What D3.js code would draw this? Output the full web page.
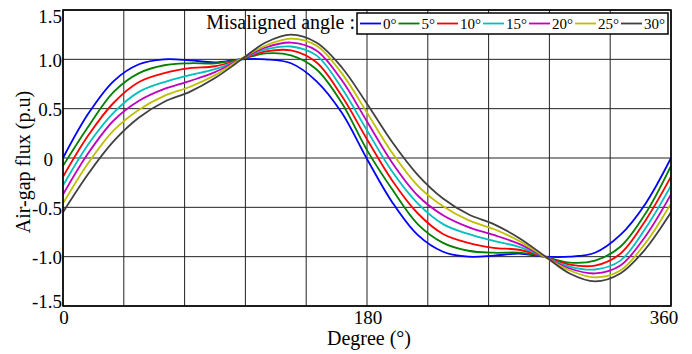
<!DOCTYPE html>
<html>
<head>
    <script src="https://d3js.org/d3.v7.min.js"></script>
    <style>
        body { margin: 0; background: #fff; }
        text { font-family: "Liberation Serif", "Times New Roman", serif; fill: #000; }
    </style>
</head>
<body>
    <svg id="chart" width="692" height="354"></svg>
    <script>
        // sample angles (degrees) and air-gap flux for each misaligned angle
        const degrees = [0, 15, 30, 45, 60, 75, 90, 105, 120, 135, 150, 165, 180,
            195, 210, 225, 240, 255, 270, 285, 300, 315, 330, 345, 360];

        const flux0 = [0.00, 0.45, 0.78, 0.95, 1.00, 0.99, 0.97, 1.00, 1.00, 0.96, 0.78, 0.46, -0.01,
            -0.45, -0.78, -0.95, -1.00, -0.99, -0.97, -1.00, -1.00, -0.96, -0.78, -0.46, 0.00];
        const flux5 = [-0.08, 0.32, 0.67, 0.86, 0.94, 0.96, 0.96, 1.00, 1.06, 1.04, 0.90, 0.56, 0.08,
            -0.32, -0.67, -0.86, -0.94, -0.96, -0.96, -1.00, -1.06, -1.04, -0.90, -0.56, -0.08];
        const flux10 = [-0.19, 0.23, 0.56, 0.77, 0.86, 0.91, 0.93, 1.00, 1.08, 1.09, 0.97, 0.63, 0.19,
            -0.23, -0.56, -0.77, -0.86, -0.91, -0.93, -1.00, -1.08, -1.09, -0.97, -0.63, -0.19];
        const flux15 = [-0.28, 0.14, 0.46, 0.67, 0.77, 0.84, 0.90, 1.00, 1.10, 1.13, 1.04, 0.71, 0.28,
            -0.14, -0.46, -0.67, -0.77, -0.84, -0.90, -1.00, -1.10, -1.13, -1.04, -0.71, -0.28];
        const flux20 = [-0.37, 0.05, 0.38, 0.58, 0.70, 0.78, 0.87, 1.00, 1.12, 1.17, 1.09, 0.79, 0.37,
            -0.05, -0.38, -0.58, -0.70, -0.78, -0.87, -1.00, -1.12, -1.17, -1.09, -0.79, -0.37];
        const flux25 = [-0.46, -0.05, 0.28, 0.49, 0.63, 0.72, 0.84, 1.00, 1.14, 1.21, 1.14, 0.86, 0.46,
            0.05, -0.28, -0.49, -0.63, -0.72, -0.84, -1.00, -1.14, -1.21, -1.14, -0.86, -0.46];
        const flux30 = [-0.55, -0.16, 0.17, 0.41, 0.57, 0.67, 0.81, 0.99, 1.17, 1.25, 1.17, 0.92, 0.55,
            0.16, -0.17, -0.41, -0.57, -0.67, -0.81, -0.99, -1.17, -1.25, -1.17, -0.92, -0.55];

        const angleLabels = ["0°", "5°", "10°", "15°", "20°", "25°", "30°"];
        const colors = ["#0000ff", "#008000", "#ff0000", "#00bfbf", "#bf00bf", "#bfbf00", "#404040"];
        const allFlux = [flux0, flux5, flux10, flux15, flux20, flux25, flux30];

        const yTicks = [1.5, 1.0, 0.5, 0, -0.5, -1.0, -1.5];
        const yTickLabels = ["1.5", "1.0", "0.5", "0", "-0.5", "-1.0", "-1.5"];
        const xTicks = [0, 180, 360];
        const xGrid = d3.range(0, 361, 36);

        const svg = d3.select("#chart");
        const margin = { left: 63, right: 21, top: 10, bottom: 48 };
        const width = 692 - margin.left - margin.right;
        const height = 354 - margin.top - margin.bottom;

        const x = d3.scaleLinear().domain([0, 360]).range([margin.left, margin.left + width]);
        const y = d3.scaleLinear().domain([-1.5, 1.5]).range([margin.top + height, margin.top]);

        // grid
        svg.append("g").selectAll("line").data(xGrid).enter().append("line")
            .attr("x1", d => x(d)).attr("x2", d => x(d))
            .attr("y1", y(-1.5)).attr("y2", y(1.5))
            .attr("stroke", "#222").attr("stroke-width", 1);
        svg.append("g").selectAll("line").data(yTicks).enter().append("line")
            .attr("x1", x(0)).attr("x2", x(360))
            .attr("y1", d => y(d)).attr("y2", d => y(d))
            .attr("stroke", "#222").attr("stroke-width", 1);

        svg.append("defs").append("clipPath").attr("id", "clip")
            .append("rect").attr("x", x(0)).attr("y", y(1.5))
            .attr("width", width).attr("height", height);

        const line = d3.line()
            .x((d, i) => x(degrees[i]))
            .y(d => y(d))
            .curve(d3.curveCatmullRom.alpha(0.5));

        svg.append("g").attr("clip-path", "url(#clip)")
            .selectAll("path").data(allFlux).enter().append("path")
            .attr("d", d => line(d))
            .attr("fill", "none")
            .attr("stroke", (d, i) => colors[i])
            .attr("stroke-width", 1.8);

        // frame
        svg.append("rect")
            .attr("x", x(0)).attr("y", y(1.5))
            .attr("width", width).attr("height", height)
            .attr("fill", "none").attr("stroke", "#000").attr("stroke-width", 1.6);

        // y tick labels
        svg.append("g").selectAll("text").data(yTicks).enter().append("text")
            .attr("x", d => d === 0 ? x(0) - 10 : x(0) - 1)
            .attr("y", d => d === 1.5 ? y(d) + 6 : (d === -1.5 ? y(d) - 5 : y(d) + 1))
            .attr("text-anchor", "end")
            .attr("dominant-baseline", "central")
            .attr("font-size", 19)
            .text((d, i) => yTickLabels[i]);

        // x tick labels
        svg.append("g").selectAll("text").data(xTicks).enter().append("text")
            .attr("x", d => d === 360 ? x(d) - 7 : x(d) + 1)
            .attr("y", y(-1.5) + 18)
            .attr("text-anchor", "middle")
            .attr("font-size", 19)
            .text(d => d);

        svg.append("text")
            .attr("x", x(180) + 2).attr("y", 345)
            .attr("text-anchor", "middle")
            .attr("font-size", 20)
            .text("Degree (°)");

        svg.append("text")
            .attr("transform", `translate(30,${y(0) + 4}) rotate(-90)`)
            .attr("text-anchor", "middle")
            .attr("font-size", 20)
            .text("Air-gap flux (p.u)");

        // legend
        svg.append("text")
            .attr("x", 355).attr("y", 29)
            .attr("text-anchor", "end")
            .attr("font-size", 20)
            .text("Misaligned angle :");

        const legend = svg.append("g");
        const box = legend.append("rect")
            .attr("x", 357).attr("y", 13).attr("height", 21)
            .attr("fill", "#fff").attr("stroke", "#000").attr("stroke-width", 1.5);
        let lx = 360;
        angleLabels.forEach((lab, i) => {
            legend.append("line")
                .attr("x1", lx).attr("x2", lx + 21)
                .attr("y1", 23.5).attr("y2", 23.5)
                .attr("stroke", colors[i]).attr("stroke-width", 1.8);
            const t = legend.append("text")
                .attr("x", lx + 23).attr("y", 28.5)
                .attr("font-size", 15)
                .text(lab);
            lx = lx + 23 + t.node().getComputedTextLength() + 2;
        });
        box.attr("width", lx - 357 + 1);
    </script>
</body>
</html>
